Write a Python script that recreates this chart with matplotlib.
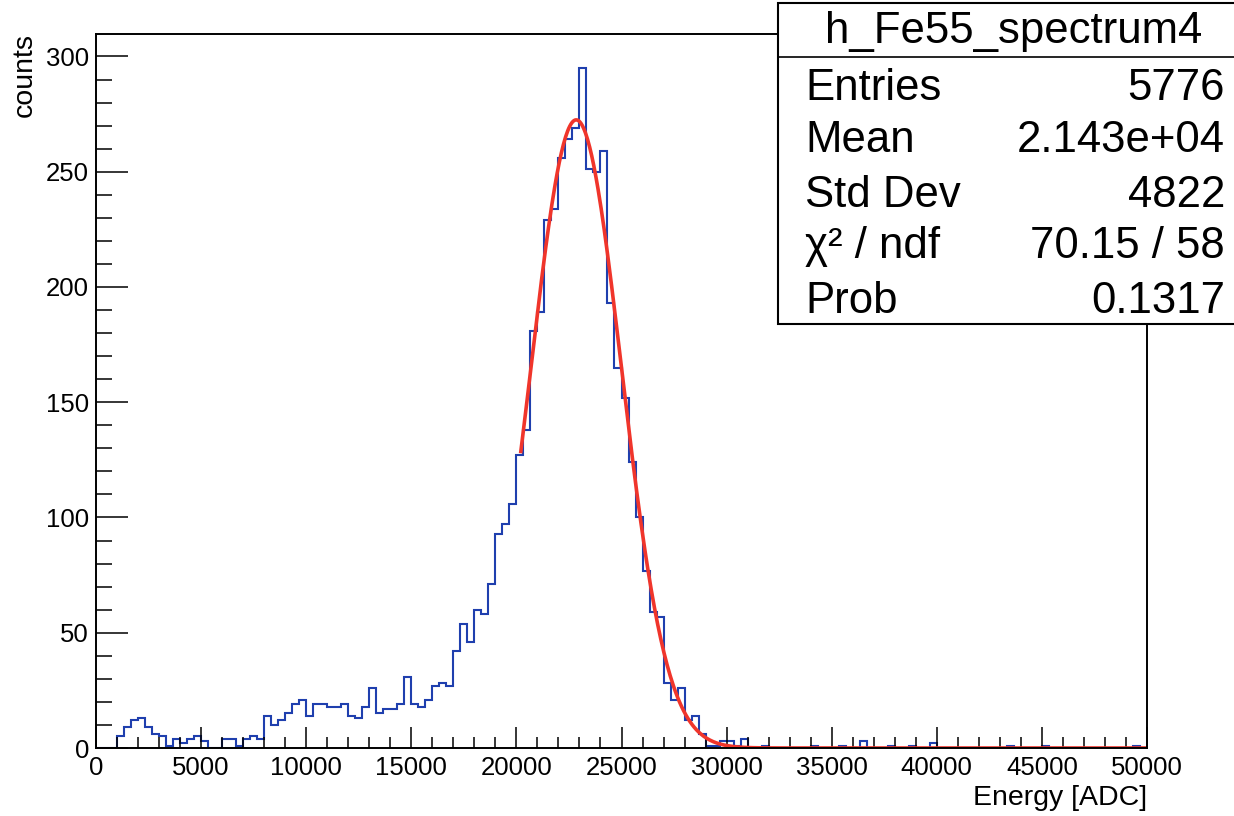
import numpy as np
import matplotlib.pyplot as plt
from matplotlib.patches import Rectangle
from matplotlib.lines import Line2D

plt.rcParams['font.family'] = ['Liberation Sans', 'DejaVu Sans']

# histogram: 150 bins from 0 to 50000 ADC
bin_lo, bin_hi, n_bins = 0, 50000, 150
counts = [
    0, 0, 0, 5, 9, 12, 13, 9, 6, 5,
    1, 4, 2, 4, 5, 3, 0, 0, 4, 4,
    1, 4, 5, 4, 14, 10, 12, 15, 19, 21,
    14, 19, 19, 18, 18, 19, 14, 13, 18, 26,
    15, 17, 17, 19, 31, 19, 18, 21, 27, 28,
    27, 42, 54, 46, 60, 58, 71, 93, 97, 106,
    127, 138, 181, 189, 229, 234, 256, 264, 269, 295,
    251, 250, 259, 193, 165, 152, 124, 100, 77, 59,
    57, 28, 21, 26, 12, 14, 6, 1, 1, 3,
    3, 1, 4, 0, 0, 1, 0, 0, 0, 0,
    0, 0, 1, 0, 0, 0, 1, 0, 0, 3,
    0, 0, 0, 1, 0, 0, 1, 0, 0, 2,
    0, 0, 0, 0, 0, 0, 0, 0, 0, 0,
    1, 0, 0, 0, 0, 1, 0, 0, 0, 0,
    0, 0, 0, 0, 0, 0, 0, 0, 1, 0,
]

# gaussian fit
fit_amp, fit_mean, fit_sigma = 272.5, 22845.0, 2150.0
fit_range = (20200, 50000)

# stats box
stats_title = 'h_Fe55_spectrum4'
stats_names = ['Entries', 'Mean', 'Std Dev', '\u03c7\u00b2 / ndf', 'Prob']
stats_values = ['5776', '2.143e+04', '4822', '70.15 / 58', '0.1317']

W, H = 1234, 816
fig = plt.figure(figsize=(W / 100, H / 100), dpi=100)

def fx(px):
    return px / W

def fy(py):
    return 1 - py / H

ax = fig.add_axes([fx(96), fy(748), fx(1147 - 96), (748 - 34) / H])

edges = np.linspace(bin_lo, bin_hi, n_bins + 1)
ax.stairs(counts, edges, color='#1f3fae', lw=1.5, baseline=0)

xf = np.linspace(fit_range[0], fit_range[1], 600)
yf = fit_amp * np.exp(-0.5 * ((xf - fit_mean) / fit_sigma) ** 2)
ax.plot(xf, yf, color='#f0352b', lw=2.6, solid_capstyle='butt')

ax.set_xlim(bin_lo, bin_hi)
ax.set_ylim(0, 1.05 * max(counts))

xt = list(range(0, 50001, 5000))
ax.set_xticks(xt)
ax.set_xticklabels([str(v) for v in xt])
ax.set_xticks(range(0, 50001, 1000), minor=True)
yt = list(range(0, 301, 50))
ax.set_yticks(yt)
ax.set_yticklabels([str(v) for v in yt])
ax.set_yticks(range(0, 301, 10), minor=True)

ax.tick_params(axis='both', which='both', direction='in', top=False, right=False,
               width=1.1, color='black', labelsize=18.5)
ax.tick_params(axis='x', which='major', length=15.2, pad=5.5)
ax.tick_params(axis='x', which='minor', length=7.6)
ax.tick_params(axis='y', which='major', length=22.7, pad=5)
ax.tick_params(axis='y', which='minor', length=11.3)
for s in ax.spines.values():
    s.set_linewidth(1.4)

fig.text(fx(1147), fy(798), 'Energy [ADC]', ha='right', va='center', fontsize=20.5)
fig.text(fx(25), fy(33), 'counts', rotation=90, ha='center', va='top', fontsize=20.5)

# stats box
box = Rectangle((fx(778), fy(324)), fx(1260 - 778), (324 - 3) / H,
                transform=fig.transFigure, facecolor='white', edgecolor='black',
                lw=1.5, clip_on=False)
fig.patches.append(box)
fig.lines.append(Line2D([fx(778), fx(1260)], [fy(56.5), fy(56.5)],
                        transform=fig.transFigure, color='black', lw=1.2))
fig.text(fx(1014), fy(43), stats_title, ha='center', va='baseline', fontsize=31.5)
row_base = [100, 152, 207, 258, 313]
for name, val, yb in zip(stats_names, stats_values, row_base):
    fig.text(fx(805), fy(yb), name, ha='left', va='baseline', fontsize=31.5)
    fig.text(fx(1225), fy(yb), val, ha='right', va='baseline', fontsize=31.5)

fig.savefig('out.png', dpi=100)
